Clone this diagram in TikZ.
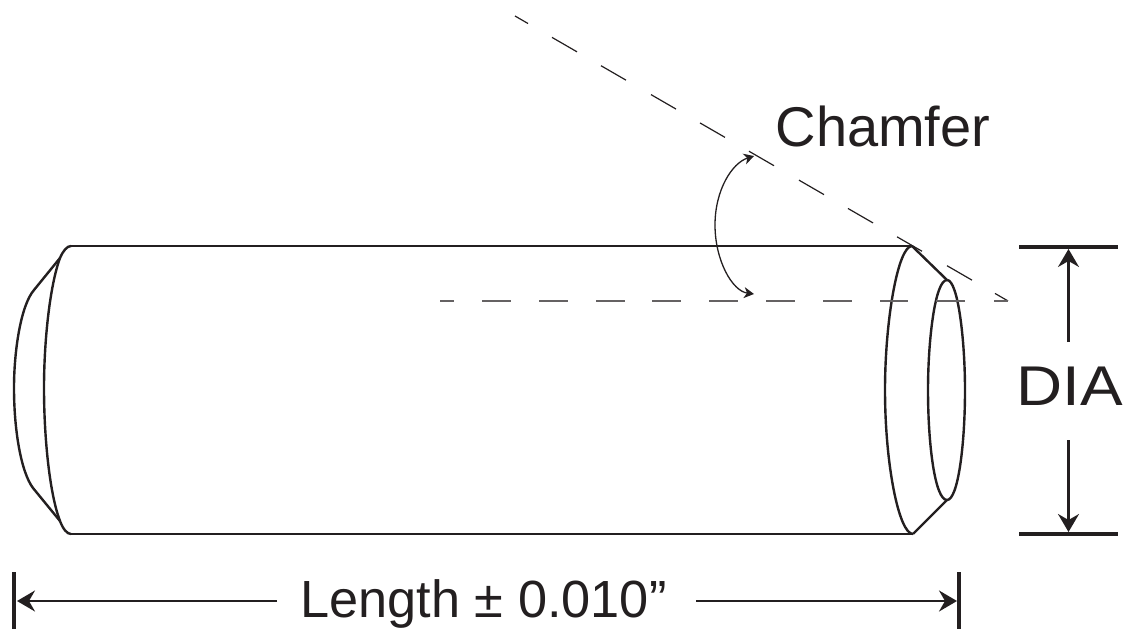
\documentclass[tikz,border=0pt]{standalone}
\usepackage{fontspec}
\setmainfont{Liberation Sans}
\usetikzlibrary{arrows.meta}
\definecolor{ink}{HTML}{231F20}
\tikzset{
  pin/.style={draw=ink,line width=2.4pt,line join=round},
  thin dash/.style={draw=ink,line width=1.2pt},
  flat dash/.style={draw=ink!70,line width=1.5pt},
  dim/.style={draw=ink,line width=2.2pt},
  bar/.style={draw=ink,line width=4.7pt},
  dimtip/.style={-{Stealth[length=18pt,width=21pt,inset=6pt]}},
  angletip/.style={-{Stealth[length=10pt,width=11pt,inset=3pt]}},
  lab/.style={text=ink,inner sep=0pt,font=\fontsize{56}{60}\selectfont},
  lablen/.style={text=ink,inner sep=0pt,font=\fontsize{52.3}{60}\selectfont}
}
\begin{document}
\begin{tikzpicture}[x=1pt,y=-1pt]
\useasboundingbox (0,0) rectangle (1124,629);
% body
\coordinate (tl) at (71,246); \coordinate (bl) at (71,534);
\coordinate (tr) at (912,246); \coordinate (br) at (913,534);
\draw[pin] (tl) -- (tr); \draw[pin] (bl) -- (br);
% left end
\draw[pin] (tl) .. controls (67,246) and (63,251) .. (60,258) .. controls (50,285) and (44,340) .. (44,388) .. controls (44,440) and (50,495) .. (60,521) .. controls (63,529) and (67,534) .. (bl);
\draw[pin] (60,258) -- (34,290) .. controls (21,305) and (14,350) .. (14,388) .. controls (14,430) and (21,472) .. (33,488) -- (60,521);
% right end
\draw[pin] (tr) .. controls (898,246) and (885,320) .. (885,390) .. controls (885,465) and (899,534) .. (br);
\draw[pin] (tr) -- (947,280); \draw[pin] (br) -- (947,500);
\draw[pin] (947,280) .. controls (935,280) and (928,340) .. (928,390) .. controls (928,445) and (935,500) .. (947,500) .. controls (958,500) and (965,445) .. (965,390) .. controls (965,340) and (958,280) .. (947,280);
% dashed chamfer line
\foreach \a/\b in {515/528,552/577,601/626,651/676,700/725,749/774,799/824,848/873,897/922,947/972,995/1008}{
  \draw[thin dash] (\a,{16+(\a-515)*0.578}) -- (\b,{16+(\b-515)*0.578});
}
% dashed axis line
\foreach \a/\b in {440/454,482/511,539/568,596/625,652/681,709/738,766/795,823/852,880/908,936/965,994/1008}{
  \draw[flat dash] (\a,301) -- (\b,301);
}
% angle
\coordinate (a1) at (754,156); \coordinate (a2) at (754,294);
\draw[ink,line width=1.3pt,angletip] (715,225) .. controls (715,190) and (732,163) .. (a1);
\draw[ink,line width=1.3pt,angletip] (715,225) .. controls (715,260) and (732,291) .. (a2);
% DIA
\node[lab,anchor=base,xscale=1.14] (dia) at (1069.5,405) {DIA};
\coordinate (d1) at (1068.5,342); \coordinate (d2) at (1068.5,440);
\draw[bar] (1019,247) -- (1118,247);
\draw[bar] (1019,534) -- (1118,534);
\draw[dim,dimtip] (d1) -- (1068.5,249);
\draw[dim,dimtip] (d2) -- (1068.5,532);
% length
\draw[bar] (14,572) -- (14,629);
\draw[bar] (959,572) -- (959,629);
\node[lablen,anchor=base] (len) at (483.5,617) {Length ± 0.010”};
\coordinate (l1) at (277,601); \coordinate (l2) at (696,601);
\draw[dim,dimtip] (l1) -- (17,601);
\draw[dim,dimtip] (l2) -- (957,601);
\node[lab,anchor=base] (cham) at (883,146) {Chamfer};
\end{tikzpicture}
\end{document}
